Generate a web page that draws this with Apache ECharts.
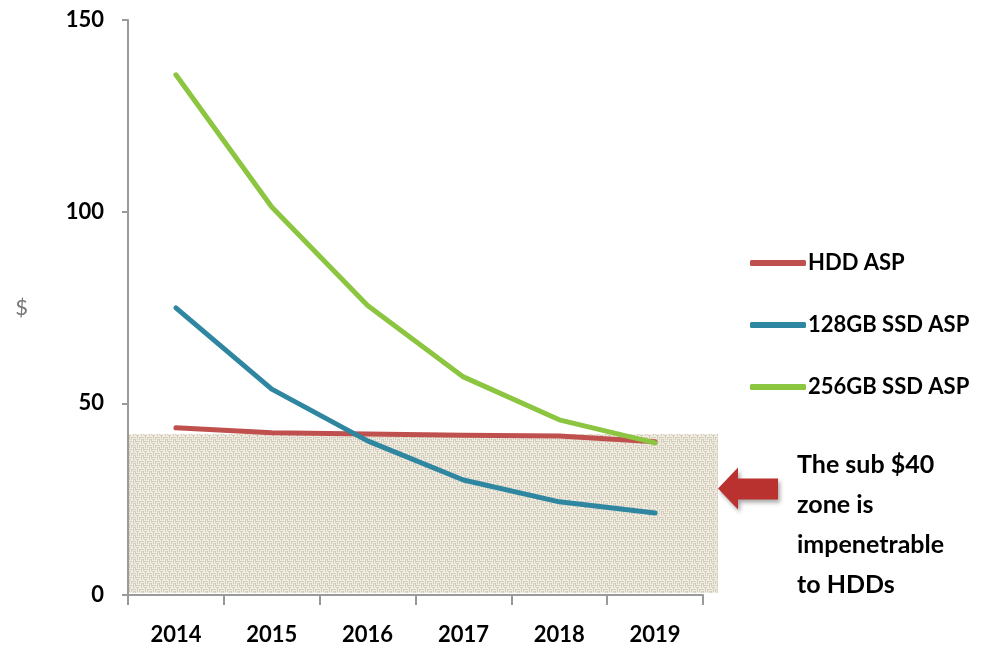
<!DOCTYPE html>
<html>
<head>
<meta charset="utf-8">
<script src="https://cdn.jsdelivr.net/npm/echarts@6/dist/echarts.min.js"></script>
<style>html,body{margin:0;padding:0;background:#fff}#c{width:984px;height:651px}</style>
</head>
<body>
<div id="c"></div>
<script>
const years = ['2014', '2015', '2016', '2017', '2018', '2019'];
const hddAsp = [43.6, 42.3, 42.0, 41.7, 41.5, 40.0];
const ssd128Asp = [74.9, 53.7, 40.2, 30.0, 24.3, 21.4];
const ssd256Asp = [135.7, 101.2, 75.5, 56.9, 45.7, 39.7];
const seriesNames = ['HDD ASP', '128GB SSD ASP', '256GB SSD ASP'];
const yMin = 0, yMax = 150, yInterval = 50;
const zoneTop = 42;
const noteLines = ['The sub $40', 'zone is', 'impenetrable', 'to HDDs'];

const FONT = 'Lato, "Open Sans", sans-serif';

// woven texture
function makeTexture() {
  const c = document.createElement('canvas');
  c.width = 8; c.height = 8;
  const g = c.getContext('2d');
  g.fillStyle = '#f0ece0';
  g.fillRect(0, 0, 8, 8);
  g.fillStyle = '#d3cdbd';
  g.fillRect(0, 1, 4, 1); g.fillRect(4, 5, 4, 1);
  g.fillRect(0, 3, 3, 1); g.fillRect(5, 7, 3, 1);
  g.fillRect(5, 0, 1, 4); g.fillRect(1, 4, 1, 4);
  g.fillRect(7, 0, 1, 3); g.fillRect(3, 5, 1, 3);
  return c;
}

const chart = echarts.init(document.getElementById('c'), null, {renderer: 'canvas'});
const colors = ['#c0504d', '#2f86a0', '#8cc540'];

function mkSeries(name, data, color) {
  return {
    name: name, type: 'line', data: data, showSymbol: false, symbol: 'none',
    lineStyle: {color: color, width: 5, cap: 'round', join: 'round'},
    itemStyle: {color: color}, z: 3, animation: false
  };
}

chart.setOption({
  animation: false,
  grid: {left: 128, right: 281, top: 20, bottom: 56, containLabel: false},
  xAxis: {
    type: 'category', data: years, boundaryGap: true,
    axisLine: {lineStyle: {color: '#9a9a9a', width: 2}},
    axisTick: {show: true, length: 10, lineStyle: {color: '#9a9a9a', width: 2}},
    axisLabel: {color: '#000', fontSize: 22, fontWeight: 'bold', fontFamily: FONT, margin: 29}
  },
  yAxis: {
    type: 'value', min: yMin, max: yMax, interval: yInterval,
    name: '$', nameLocation: 'middle', nameRotate: 0, nameGap: 100,
    nameTextStyle: {color: '#777', fontSize: 22, fontFamily: FONT, padding: [0, 0, 8, 0]},
    axisLine: {show: true, lineStyle: {color: '#9a9a9a', width: 2}},
    axisTick: {show: true, length: 6, lineStyle: {color: '#9a9a9a', width: 2}},
    splitLine: {show: false},
    axisLabel: {color: '#000', fontSize: 22, fontWeight: 'bold', fontFamily: FONT, margin: 24}
  },
  legend: {
    orient: 'vertical', left: 745, top: 246,
    itemWidth: 56, itemHeight: 6, itemGap: 38, icon: 'roundRect',
    textStyle: {color: '#000', fontSize: 22, fontWeight: 'bold', fontFamily: FONT, padding: [0, 0, 0, -3], lineHeight: 24},
    data: seriesNames
  },
  series: [
    mkSeries(seriesNames[0], hddAsp, colors[0]),
    mkSeries(seriesNames[1], ssd128Asp, colors[1]),
    mkSeries(seriesNames[2], ssd256Asp, colors[2])
  ]
});

const yTop = chart.convertToPixel({yAxisIndex: 0}, zoneTop);
const yBot = chart.convertToPixel({yAxisIndex: 0}, 0);
const gridLeft = 129;
const zoneRight = 718;
const arrowY = (yTop + yBot) / 2 - 26;

chart.setOption({
  graphic: [
    {
      type: 'rect', z: 0, silent: true,
      shape: {x: gridLeft, y: yTop, width: zoneRight - gridLeft, height: yBot - yTop - 2},
      style: {fill: {image: makeTexture(), repeat: 'repeat'}}
    },
    {
      type: 'polygon', z: 5,
      shape: {points: [[718, arrowY], [738, arrowY - 21], [738, arrowY - 10], [778, arrowY - 10],
                       [778, arrowY + 11], [738, arrowY + 11], [738, arrowY + 21]]},
      style: {fill: '#b93230', shadowBlur: 4, shadowColor: 'rgba(0,0,0,0.35)', shadowOffsetX: 2, shadowOffsetY: 3}
    },
    {
      type: 'text', z: 5, left: 797, top: 445,
      style: {text: noteLines.join('\n'), fill: '#000', font: 'bold 25px ' + FONT, lineHeight: 40}
    }
  ]
});
</script>
</body>
</html>
